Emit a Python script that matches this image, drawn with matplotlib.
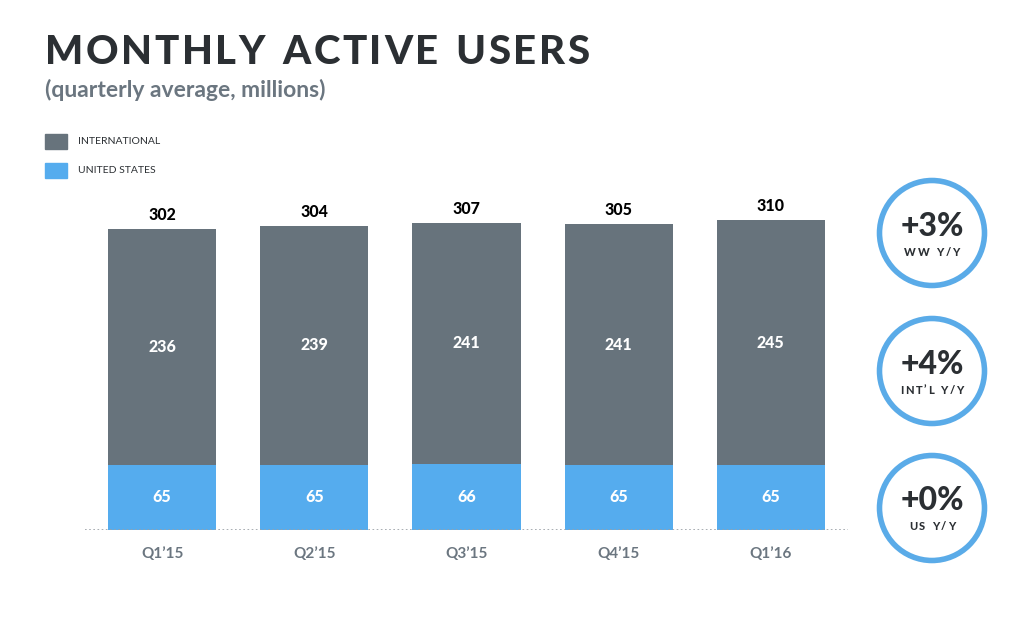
import numpy as np
import matplotlib
matplotlib.use("Agg")
import matplotlib.pyplot as plt
from matplotlib.patches import Circle, Rectangle

quarters = ["Q1\u201915", "Q2\u201915", "Q3\u201915", "Q4\u201915", "Q1\u201916"]
intl = [236, 239, 241, 241, 245]
us = [65, 65, 66, 65, 65]
totals = [302, 304, 307, 305, 310]
growth = ["+3%", "+4%", "+0%"]
growth_lbl = ["WW Y/Y", "INT\u2019L Y/Y", "US Y/Y"]

GRAY = "#67737c"
BLUE = "#55acee"
DARK = "#2b2f33"
SUB = "#6b7680"
FONT = "Lato"

plt.rcParams['font.family'] = [FONT, 'DejaVu Sans']

W, H = 1014, 622
fig = plt.figure(figsize=(W / 100, H / 100), dpi=100)

# main bar axes, placed in pixels
ax = fig.add_axes([85 / W, (H - 530) / H, 763 / W, 340 / H])
x = np.arange(len(quarters))
ax.bar(x, us, width=0.71, color=BLUE, zorder=2)
ax.bar(x, intl, width=0.71, bottom=us, color=GRAY, zorder=2)
ax.set_xlim(-0.507, 4.507)
ax.set_ylim(0, 340)
for i in range(len(x)):
    ax.text(x[i], us[i] / 2, str(us[i]), ha="center", va="center",
            color="white", fontsize=11.5, fontweight="black")
    ax.text(x[i], us[i] + intl[i] / 2, str(intl[i]), ha="center", va="center",
            color="white", fontsize=11.5, fontweight="black")
    ax.text(x[i], us[i] + intl[i] + 6, str(totals[i]), ha="center", va="bottom",
            color="black", fontsize=11.5, fontweight="black")
ax.axhline(0, color="#9aa0a6", lw=1.2, ls=(0, (1, 1.5)), zorder=3)
for s in ax.spines.values():
    s.set_visible(False)
ax.set_yticks([])
ax.set_xticks(x)
ax.set_xticklabels(quarters, color=SUB, fontsize=11, fontweight="bold")
ax.tick_params(axis="x", length=0, pad=12)

# overlay in pixel coordinates
ov = fig.add_axes([0, 0, 1, 1], zorder=5)
ov.set_xlim(0, W)
ov.set_ylim(H, 0)
ov.axis("off")
ov.patch.set_alpha(0)

renderer = fig.canvas.get_renderer()


def char_w(t, ch):
    if ch == " ":
        return t.get_fontsize() * 0.3 * 100 / 72
    return t.get_window_extent(renderer).width


def spaced(x0, y0, s, track, **kw):
    # draw text one letter at a time with extra tracking (pixels)
    cx = x0
    for ch in s:
        t = ov.text(cx, y0, ch, ha="left", va="center", **kw)
        cx += char_w(t, ch) + track
    return cx


def spaced_center(xc, y0, s, track, **kw):
    total = 0
    for ch in s:
        t = ov.text(0, 0, ch, **kw)
        total += char_w(t, ch)
        t.remove()
    total += track * (len(s) - 1)
    spaced(xc - total / 2, y0, s, track, **kw)


spaced(45, 52, "MONTHLY ACTIVE USERS", 2.6, color=DARK, fontsize=29, fontweight="black")
ov.text(45, 90, "(quarterly average, millions)", ha="left", va="center",
        color=SUB, fontsize=16.5, fontweight="bold")

ov.add_patch(Rectangle((45, 134), 22, 15, color=GRAY))
ov.text(78, 141.5, "INTERNATIONAL", ha="left", va="center", color=DARK, fontsize=7.5)
ov.add_patch(Rectangle((45, 163), 22, 15, color=BLUE))
ov.text(78, 170.5, "UNITED STATES", ha="left", va="center", color=DARK, fontsize=7.5)

centers = [233, 371, 508]
for cy, g, lb in zip(centers, growth, growth_lbl):
    ov.add_patch(Circle((932, cy), 52.5, fill=False, ec="#5aabe8", lw=4))
    ov.text(932, cy - 7, g, ha="center", va="center", color=DARK,
            fontsize=23, fontweight="black")
    spaced_center(932, cy + 19, lb, 1.7, color=DARK, fontsize=8, fontweight="black")

fig.savefig("out.png", dpi=100, facecolor="white")
